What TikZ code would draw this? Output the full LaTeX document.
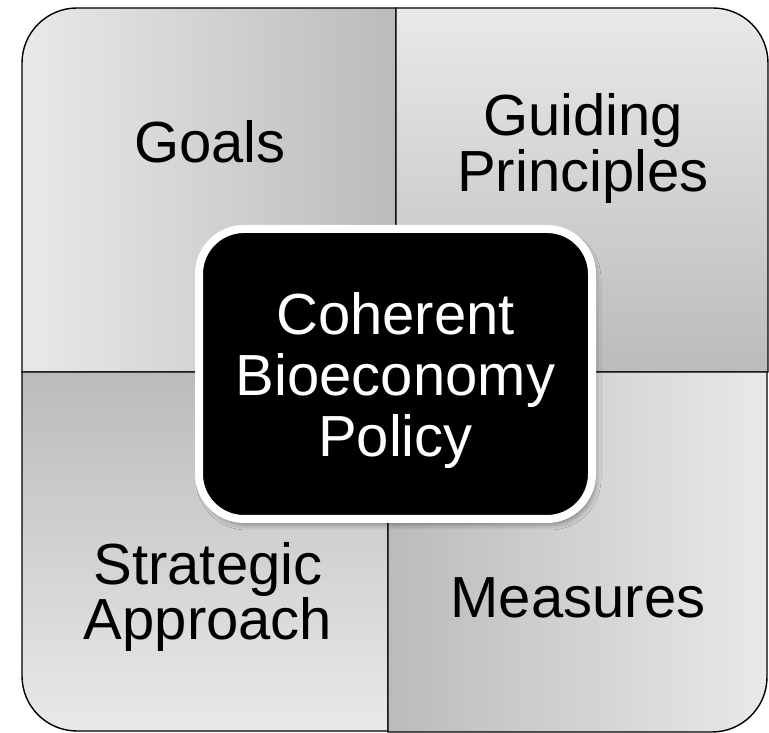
\documentclass[tikz,border=0pt]{standalone}
\usepackage{fontspec}
\setmainfont{Liberation Sans}
\usetikzlibrary{positioning,shadows.blur}
\definecolor{quadlight}{HTML}{E9E9E9}
\definecolor{quaddark}{HTML}{BBBBBB}

\begin{document}
\begin{tikzpicture}[x=1pt, y=1pt,
    quad/.style={draw=black, line width=1.4pt},
    quadtext/.style={font=\fontsize{58}{#1}\selectfont, align=center, inner sep=0pt},
    quadtext/.default=56,
    policybox/.style={fill=black, draw=white, line width=8pt, rounded corners=45pt,
        blur shadow={shadow xshift=3pt, shadow yshift=-5pt, shadow opacity=45, shadow blur radius=6pt}},
    policytext/.style={font=\fontsize{58}{61}\selectfont, text=white, align=center, inner sep=0pt}]
    \useasboundingbox (0,0) rectangle (769,733);
    % four quadrants, shaded towards the middle
    \draw[quad, left color=quadlight, right color=quaddark]
        (22,361) -- (22,670) arc[start angle=180, end angle=90, radius=55pt] -- (396,725) -- (396,361) -- cycle;
    \draw[quad, top color=quadlight, bottom color=quaddark]
        (396,361) -- (396,725) -- (713,725) arc[start angle=90, end angle=0, radius=55pt] -- (768,361) -- cycle;
    \draw[quad, top color=quaddark, bottom color=quadlight]
        (388,361) -- (22,361) -- (22,57) arc[start angle=180, end angle=270, radius=55pt] -- (388,2) -- cycle;
    \draw[quad, left color=quaddark, right color=quadlight]
        (388,361) -- (767,361) -- (767,56) arc[start angle=0, end angle=-90, radius=55pt] -- (388,1) -- cycle;
    % middle box
    \draw[policybox] (199,214) rectangle (592,504);
    \node[policytext] (policy) at (395.5,352) {Coherent\\Bioeconomy\\Policy};
    \node[quadtext, anchor=base] (goals) at (210,570) {Goals};
    \node[quadtext] (principles) at (583,584) {Guiding\\Principles};
    \node[quadtext=51] (approach) at (208,136) {Strategic\\Approach};
    \node[quadtext, anchor=base] (measures) at (578,115) {Measures};
\end{tikzpicture}
\end{document}
